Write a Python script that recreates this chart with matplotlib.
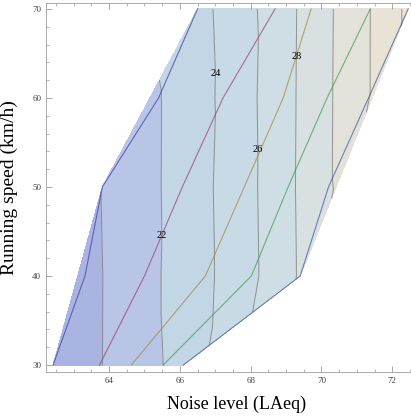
import numpy as np
import matplotlib.pyplot as plt
import matplotlib.tri as mtri

plt.rcParams['font.family'] = ['Liberation Serif', 'DejaVu Serif']

# === Data: noise level (LAeq) of five series at each running speed ===
speeds = [30, 40, 50, 60, 70]
noise_1 = [62.42, 63.32, 63.81, 65.40, 66.50]
noise_2 = [63.73, 65.00, 66.07, 67.22, 68.69]
noise_3 = [64.63, 66.72, 67.82, 68.92, 69.71]
noise_4 = [65.53, 68.02, 69.06, 70.16, 71.38]
noise_5 = [66.10, 69.40, 70.20, 71.33, 72.45]

# contoured quantity at each point (same order as above)
value_1 = [18.3, 19.4, 20.05, 21.9, 23.3]
value_2 = [19.9, 21.4, 22.7, 24.3, 26.8]
value_3 = [21.0, 23.6, 25.3, 27.3, 28.8]
value_4 = [22.0, 25.6, 27.6, 29.7, 32.0]
value_5 = [22.8, 28.2, 29.8, 31.9, 34.4]

levels = [20, 22, 24, 26, 28, 30, 32, 34]
labelled = [22, 24, 26, 28]
label_speed = [44.6, 62.7, 54.2, 64.7]

all_noise = [noise_1, noise_2, noise_3, noise_4, noise_5]
all_value = [value_1, value_2, value_3, value_4, value_5]

x = np.concatenate(all_noise)
y = np.tile(speeds, len(all_noise)).astype(float)
z = np.concatenate(all_value)

tri = mtri.Triangulation(x, y)

band_colors = ['#aab4e2', '#b8c5e7', '#c2d6e6', '#c8dae6', '#cfdde4',
               '#d8e0e1', '#e2e2da', '#e9e3d6', '#ede4d5']

fig = plt.figure(figsize=(4.11, 4.19), dpi=100)
ax = fig.add_axes([0.112, 0.112, 0.888, 0.881])

fill_levels = [z.min() - 1] + levels + [z.max() + 1]
ax.tricontourf(tri, z, levels=fill_levels, colors=band_colors)
cs = ax.tricontour(tri, z, levels=levels, colors='#777777', linewidths=0.7, alpha=0.75)

# series lines on top
line_colors = [(0.24, 0.24, 0.6), (0.6, 0.24, 0.4428), (0.6, 0.547, 0.24),
               (0.24, 0.6, 0.33), (0.24, 0.3348, 0.6)]
for n, col in zip(all_noise, line_colors):
    ax.plot(n, speeds, color=col, lw=0.8, alpha=0.7)

# contour labels, placed on the contour line at a chosen speed
for lev, sp in zip(labelled, label_speed):
    seg = np.vstack(cs.allsegs[levels.index(lev)])
    i = np.argmin(np.abs(seg[:, 1] - sp))
    ax.text(seg[i, 0], sp, str(lev), fontsize=7.5, ha='center', va='center')

ax.set_xlim(62.22, 72.53)
ax.set_ylim(29.21, 70.67)
ax.set_xticks([64, 66, 68, 70, 72])
ax.set_xticks(np.arange(62.5, 72.6, 0.5), minor=True)
ax.set_yticks([30, 40, 50, 60, 70])
ax.set_yticks(np.arange(30, 71, 2), minor=True)
ax.tick_params(which='both', direction='in', top=True, right=False,
               colors='#999999', labelcolor='#444444', labelsize=6.5)
ax.tick_params(which='major', length=4, width=0.6)
ax.tick_params(which='minor', length=2, width=0.5)
for s in ['left', 'bottom', 'top']:
    ax.spines[s].set_color('#aaaaaa')
    ax.spines[s].set_linewidth(0.7)
ax.spines['right'].set_visible(False)

ax.set_xlabel('Noise level (LAeq)', fontsize=13)
ax.xaxis.set_label_coords(0.523, -0.065)
ax.set_ylabel('Running speed (km/h)', fontsize=14, labelpad=10)

fig.savefig('out.png', dpi=100)
